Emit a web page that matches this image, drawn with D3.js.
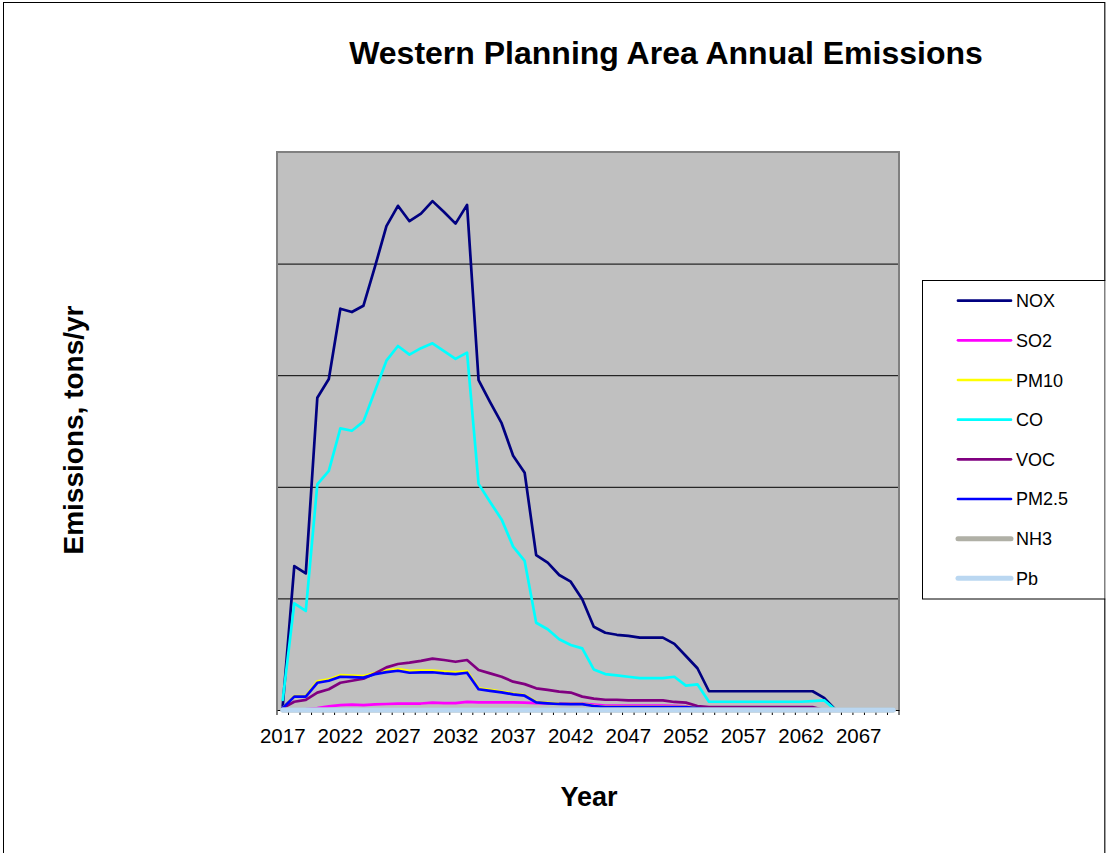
<!DOCTYPE html>
<html>
<head>
<meta charset="utf-8">
<script src="https://cdn.jsdelivr.net/npm/d3@7/dist/d3.min.js"></script>
<style>
  html, body { margin: 0; padding: 0; background: #ffffff; }
  svg { display: block; font-family: "Liberation Sans", Arial, sans-serif; }
</style>
</head>
<body>
<svg id="chart" width="1117" height="853"></svg>
<script>
// Annual emissions by pollutant, tons/yr
const years = d3.range(2017, 2071);
const tickYears = [2017, 2022, 2027, 2032, 2037, 2042, 2047, 2052, 2057, 2062, 2067];

const nox = [18, 645, 612, 1399, 1483, 1798, 1783, 1811, 1985, 2168, 2259, 2190, 2224, 2280, 2231, 2179, 2263,
  1478, 1379, 1285, 1139, 1063, 694, 660, 605, 575, 496, 373, 346, 337, 332, 324, 324, 324, 296, 242, 187,
  84, 84, 84, 84, 84, 84, 84, 84, 84, 84, 54, 0, 0, 0, 0, 0, 0];
const so2 = [0, 2, 4, 9, 16, 22, 24, 22, 25, 27, 29, 29, 29, 33, 31, 31, 36,
  34, 34, 34, 34, 33, 31, 30, 30, 29, 29, 24, 20, 20, 20, 20, 20, 20, 19, 16, 4,
  0, 0, 0, 0, 0, 0, 0, 0, 0, 0, 0, 0, 0, 0, 0, 0, 0];
const pm10 = [9, 62, 62, 128, 137, 156, 154, 152, 166, 177, 183, 175, 177, 177, 172, 169, 174,
  97, 90, 83, 74, 67, 36, 32, 29, 28, 28, 19, 14, 14, 14, 14, 14, 14, 14, 14, 10,
  5, 5, 5, 5, 5, 5, 5, 5, 5, 5, 0, 0, 0, 0, 0, 0, 0];
const co = [45, 478, 444, 1011, 1071, 1262, 1251, 1292, 1429, 1565, 1631, 1592, 1621, 1643, 1608, 1573, 1601,
  1013, 932, 854, 732, 668, 391, 362, 317, 291, 276, 182, 161, 155, 149, 143, 143, 143, 149, 109, 115,
  37, 37, 37, 37, 37, 37, 37, 37, 37, 40, 43, 0, 0, 0, 0, 0, 0];
const voc = [9, 37, 45, 78, 93, 122, 131, 140, 164, 191, 206, 212, 220, 230, 224, 216, 224,
  179, 164, 149, 127, 116, 97, 90, 82, 78, 60, 51, 46, 46, 43, 43, 43, 43, 36, 33, 18,
  13, 13, 13, 13, 13, 13, 13, 13, 13, 13, 0, 0, 0, 0, 0, 0, 0];
const pm25 = [9, 60, 60, 122, 131, 149, 147, 145, 160, 170, 176, 167, 169, 169, 164, 161, 167,
  93, 86, 79, 70, 64, 34, 30, 27, 26, 26, 18, 13, 13, 13, 13, 13, 13, 13, 13, 9,
  4, 4, 4, 4, 4, 4, 4, 4, 4, 4, 0, 0, 0, 0, 0, 0, 0];
const nh3 = years.map(() => 0);
const pb = years.map(() => 0);

const seriesNames = ["NOX", "SO2", "PM10", "CO", "VOC", "PM2.5", "NH3", "Pb"];
const seriesValues = [nox, so2, pm10, co, voc, pm25, nh3, pb];
const seriesColors = ["#000080", "#ff00ff", "#ffff00", "#00ffff", "#800080", "#0000ff", "#b0b0a6", "#bad7f1"];
const seriesWidths = [2.7, 2.7, 2.7, 2.7, 2.7, 2.7, 5, 5];

const svg = d3.select("#chart");

// Outer chart frame
svg.append("rect")
  .attr("x", 3.5).attr("y", 2.5).attr("width", 1101.5).attr("height", 860)
  .attr("fill", "#ffffff").attr("stroke", "#000000").attr("stroke-width", 1);

const plot = { left: 277, right: 899, top: 152, bottom: 710 };

const x = d3.scaleBand().domain(years).range([plot.left, plot.right]).paddingInner(0).paddingOuter(0);
const y = d3.scaleLinear().domain([0, 2500]).range([plot.bottom, plot.top]);
const cx = d => x(d) + x.bandwidth() / 2;

// Plot area background
svg.append("rect")
  .attr("x", plot.left).attr("y", plot.top)
  .attr("width", plot.right - plot.left).attr("height", plot.bottom - plot.top)
  .attr("fill", "#c0c0c0");

// Horizontal gridlines
const grid = svg.append("g")
  .attr("transform", `translate(${plot.left},0)`)
  .call(d3.axisLeft(y).tickValues([500, 1000, 1500, 2000]).tickSize(-(plot.right - plot.left)).tickFormat(""));
grid.select(".domain").remove();
grid.selectAll(".tick line").attr("stroke", "#000000").attr("stroke-width", 1);

// Plot area frame (left, top, right)
svg.append("path")
  .attr("d", `M${plot.left},${plot.bottom} V${plot.top} H${plot.right} V${plot.bottom}`)
  .attr("fill", "none").attr("stroke", "#808080").attr("stroke-width", 2);

// X axis: ticks between categories, labels every five years
const xAxis = svg.append("g")
  .attr("transform", `translate(0,${plot.bottom})`)
  .call(d3.axisBottom(x).tickValues(years).tickSize(5).tickSizeOuter(0)
    .tickFormat(d => tickYears.includes(d) ? String(d) : ""));
xAxis.select(".domain").attr("stroke", "#000000").attr("stroke-width", 1);
xAxis.selectAll(".tick line")
  .attr("x1", -x.bandwidth() / 2).attr("x2", -x.bandwidth() / 2)
  .attr("stroke", "#000000").attr("stroke-width", 1);
xAxis.append("line")
  .attr("x1", plot.right).attr("x2", plot.right).attr("y1", 0).attr("y2", 5)
  .attr("stroke", "#000000");
xAxis.selectAll(".tick text")
  .attr("y", 18).attr("dy", "0.71em")
  .attr("font-size", 20.5).attr("fill", "#000000")
  .attr("font-family", "Liberation Sans, Arial, sans-serif");

// Series lines
const line = d3.line().x((d, i) => cx(years[i])).y(d => y(d));
seriesValues.forEach((vals, k) => {
  svg.append("path")
    .datum(vals)
    .attr("d", line)
    .attr("fill", "none")
    .attr("stroke", seriesColors[k])
    .attr("stroke-width", seriesWidths[k])
    .attr("stroke-linejoin", "round")
    .attr("stroke-linecap", "round");
});

// Titles
svg.append("text")
  .attr("x", 666).attr("y", 64)
  .attr("text-anchor", "middle").attr("font-size", 32).attr("font-weight", "bold")
  .text("Western Planning Area Annual Emissions");

svg.append("text")
  .attr("transform", "translate(83,430) rotate(-90)")
  .attr("text-anchor", "middle").attr("font-size", 28).attr("font-weight", "bold")
  .text("Emissions, tons/yr");

svg.append("text")
  .attr("x", 589).attr("y", 806)
  .attr("text-anchor", "middle").attr("font-size", 27).attr("font-weight", "bold")
  .text("Year");

// Legend
const legend = svg.append("g");
legend.append("rect")
  .attr("x", 922.5).attr("y", 280.5).attr("width", 190).attr("height", 318.5)
  .attr("fill", "#ffffff").attr("stroke", "#000000").attr("stroke-width", 1);
const rowY = d3.scaleLinear().domain([0, 7]).range([300.7, 578.3]);
seriesNames.forEach((name, k) => {
  const yy = rowY(k);
  legend.append("line")
    .attr("x1", 958).attr("x2", 1011).attr("y1", yy).attr("y2", yy)
    .attr("stroke", seriesColors[k]).attr("stroke-width", seriesWidths[k])
    .attr("stroke-linecap", "round");
  legend.append("text")
    .attr("x", 1016).attr("y", yy + 6.5)
    .attr("font-size", 18).attr("fill", "#000000")
    .text(name);
});

// Right edge of the frame drawn over the legend box
svg.append("line")
  .attr("x1", 1105).attr("x2", 1105).attr("y1", 2).attr("y2", 853)
  .attr("stroke", "#000000").attr("stroke-width", 1);
svg.append("rect").attr("x", 1105.5).attr("y", 0).attr("width", 12).attr("height", 853).attr("fill", "#ffffff");
</script>
</body>
</html>
